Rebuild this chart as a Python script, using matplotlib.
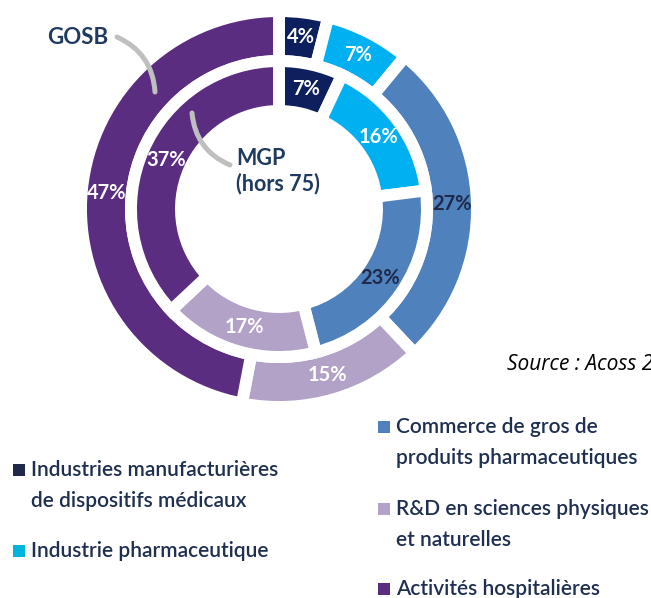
import matplotlib.pyplot as plt
from matplotlib.patches import Rectangle

plt.rcParams['font.family'] = ['Lato', 'DejaVu Sans']

# outer ring = GOSB, inner ring = MGP (hors 75)
sectors = ["Industries manufacturières\nde dispositifs médicaux",
           "Industrie pharmaceutique",
           "Commerce de gros de\nproduits pharmaceutiques",
           "R&D en sciences physiques\net naturelles",
           "Activités hospitalières"]
gosb = [4, 7, 27, 15, 47]
mgp = [7, 16, 23, 17, 37]
colors = ["#0d1f5c", "#00b0f0", "#4f81bd", "#b3a2c7", "#5b2d80"]
legend_colors = ["#1f2a4a", "#00b4dc", "#4f81bd", "#b3a2c7", "#5b2d80"]
pct_colors = ["white", "white", "#1f2a4a", "white", "white"]

W, H = 651, 598
fig = plt.figure(figsize=(W / 100, H / 100), dpi=100)
ax = fig.add_axes([0, 0, 1, 1])

cx, cy = 279, H - 209
lw = 8.6  # white gaps between slices / rings

common = dict(center=(cx, cy), startangle=90, counterclock=False, colors=colors,
              autopct="%.0f%%", textprops=dict(fontsize=14.5, fontweight="bold"))
_, _, outer_txt = ax.pie(gosb, radius=198, pctdistance=0.874,
                         wedgeprops=dict(width=50, edgecolor="white", linewidth=lw), **common)
_, _, inner_txt = ax.pie(mgp, radius=148, pctdistance=0.83,
                         wedgeprops=dict(width=50, edgecolor="white", linewidth=lw), **common)
for txts in (outer_txt, inner_txt):
    for t, c in zip(txts, pct_colors):
        t.set_color(c)

ax.set_xlim(0, W)
ax.set_ylim(0, H)
ax.set_aspect("equal")
ax.axis("off")

# ring names with grey leader lines
name_col = "#1f3a5f"
ax.text(47, H - 38, "GOSB", fontsize=16, fontweight="bold", color=name_col, va="center")
ax.annotate("", xy=(155, H - 92), xytext=(117, H - 37),
            arrowprops=dict(arrowstyle="-", color="#bfbfbf", lw=3.6,
                            connectionstyle="arc3,rad=-0.3", shrinkA=0, shrinkB=0))
ax.text(236, H - 171, "MGP\n(hors 75)", fontsize=15.5, fontweight="bold", color=name_col,
        va="center", linespacing=1.2)
ax.annotate("", xy=(230, H - 165), xytext=(192, H - 113),
            arrowprops=dict(arrowstyle="-", color="#bfbfbf", lw=3.6,
                            connectionstyle="arc3,rad=0.3", shrinkA=0, shrinkB=0))

ax.text(507, H - 365, "Source : Acoss 2", fontsize=15, style="italic", color="black",
        va="center", family=["Open Sans", "DejaVu Sans"])

# legend
leg_pos = [(13, 470), (13, 551), (378, 427), (378, 509), (378, 589)]
leg_txt_col = "#1e2f50"
for (x, y), lab, c in zip(leg_pos, sectors, legend_colors):
    ax.add_patch(Rectangle((x, H - y - 6), 12, 12, color=c, lw=0))
    for i, line in enumerate(lab.split("\n")):
        ax.text(x + 18, H - y - 31 * i, line, fontsize=15, fontweight="semibold",
                color=leg_txt_col, va="center")

fig.savefig("out.png", dpi=100)
